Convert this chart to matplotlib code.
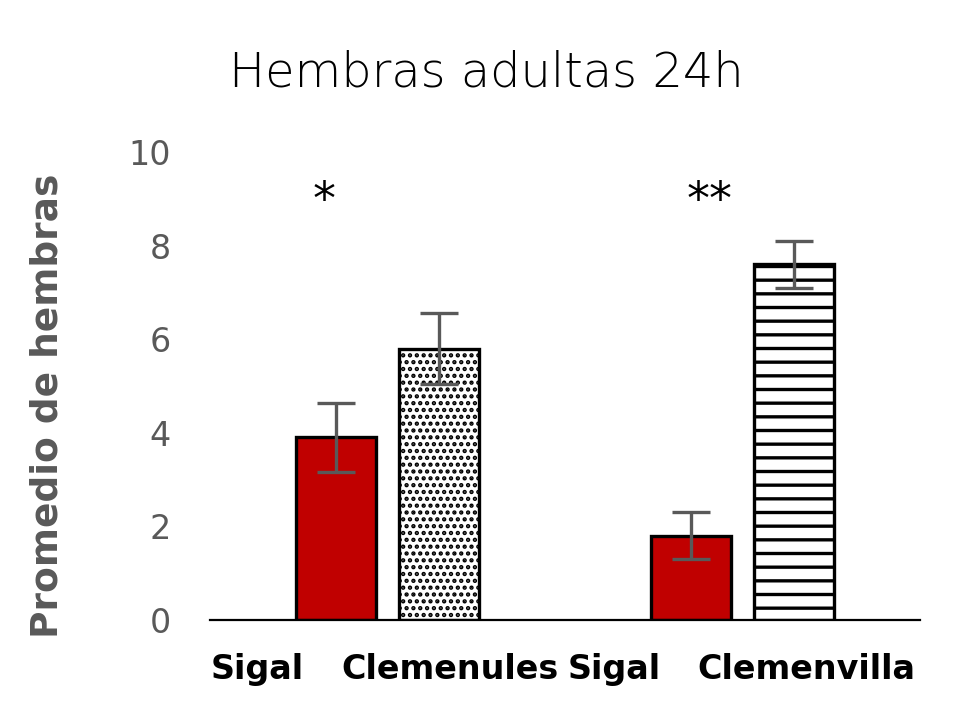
import matplotlib
matplotlib.use('Agg')
import matplotlib.pyplot as plt

# datos
grupos = ['Clemenules', 'Clemenvilla']
etiquetas = ['Sigal', 'Clemenules', 'Sigal', 'Clemenvilla']
sigal = [3.9, 1.8]
sigal_err = [0.73, 0.5]
variedad = [5.8, 7.6]
variedad_err = [0.75, 0.5]
marcas = ['*', '**']
yticks = [0, 2, 4, 6, 8, 10]

gris = '#595959'
rojo = '#C00000'

# dpi 82 para que el tramado tenga la densidad del original
DPI = 82
k = 100 / DPI

def pt(v):
    return v * k

fig = plt.figure(figsize=(973 / DPI, 726 / DPI), dpi=DPI)
ax = fig.add_axes([0.2158, 0.146, 0.7297, 0.6446])

ancho = 0.225
sep = 0.144
centros = [0.5, 1.5]

for i, c in enumerate(centros):
    plt.rcParams['hatch.linewidth'] = pt(2.0)
    ax.bar(c - sep, sigal[i], ancho, color=rojo, edgecolor='black', linewidth=pt(2.4), zorder=2)
    ax.errorbar(c - sep, sigal[i], yerr=sigal_err[i], fmt='none', ecolor=gris,
                elinewidth=pt(2.4), capsize=pt(14), capthick=pt(2.4), zorder=3)
    tramado = '..' if i == 0 else '-'
    plt.rcParams['hatch.linewidth'] = pt(2.1) if i == 0 else pt(2.4)
    ax.bar(c + sep, variedad[i], ancho, color='white', edgecolor='black', linewidth=pt(2.4),
           hatch=tramado, zorder=2)
    ax.errorbar(c + sep, variedad[i], yerr=variedad_err[i], fmt='none', ecolor=gris,
                elinewidth=pt(2.4), capsize=pt(14), capthick=pt(2.4), zorder=3)

ax.text(0.321, 8.95, marcas[0], ha='center', va='center', fontsize=pt(33), color='black')
ax.text(1.408, 8.95, marcas[1], ha='center', va='center', fontsize=pt(33), color='black')

ax.set_xlim(0, 2)
ax.set_ylim(0, 10)
ax.set_yticks(yticks)
ax.set_yticklabels([str(t) for t in yticks], fontsize=pt(24), color=gris)
ax.set_xticks([0.132, 0.676, 1.138, 1.679])
ax.set_xticklabels(etiquetas, fontsize=pt(24), fontweight='bold', color='black')
ax.tick_params(axis='y', length=0, pad=pt(28))
ax.tick_params(axis='x', length=0, pad=pt(24))

for s in ['top', 'right', 'left']:
    ax.spines[s].set_visible(False)
ax.spines['bottom'].set_linewidth(pt(1.6))
ax.spines['bottom'].set_color('black')

ax.set_ylabel('Promedio de hembras', fontsize=pt(27), fontweight='bold', color=gris)
ax.yaxis.set_label_coords(-0.204, 0.457)

fig.text(0.5, 0.90, 'Hembras adultas 24h', ha='center', va='center', fontsize=pt(34.5),
         family='DejaVu Sans', fontweight='light', color='black')

plt.savefig('out.png', dpi=DPI)
plt.close()
